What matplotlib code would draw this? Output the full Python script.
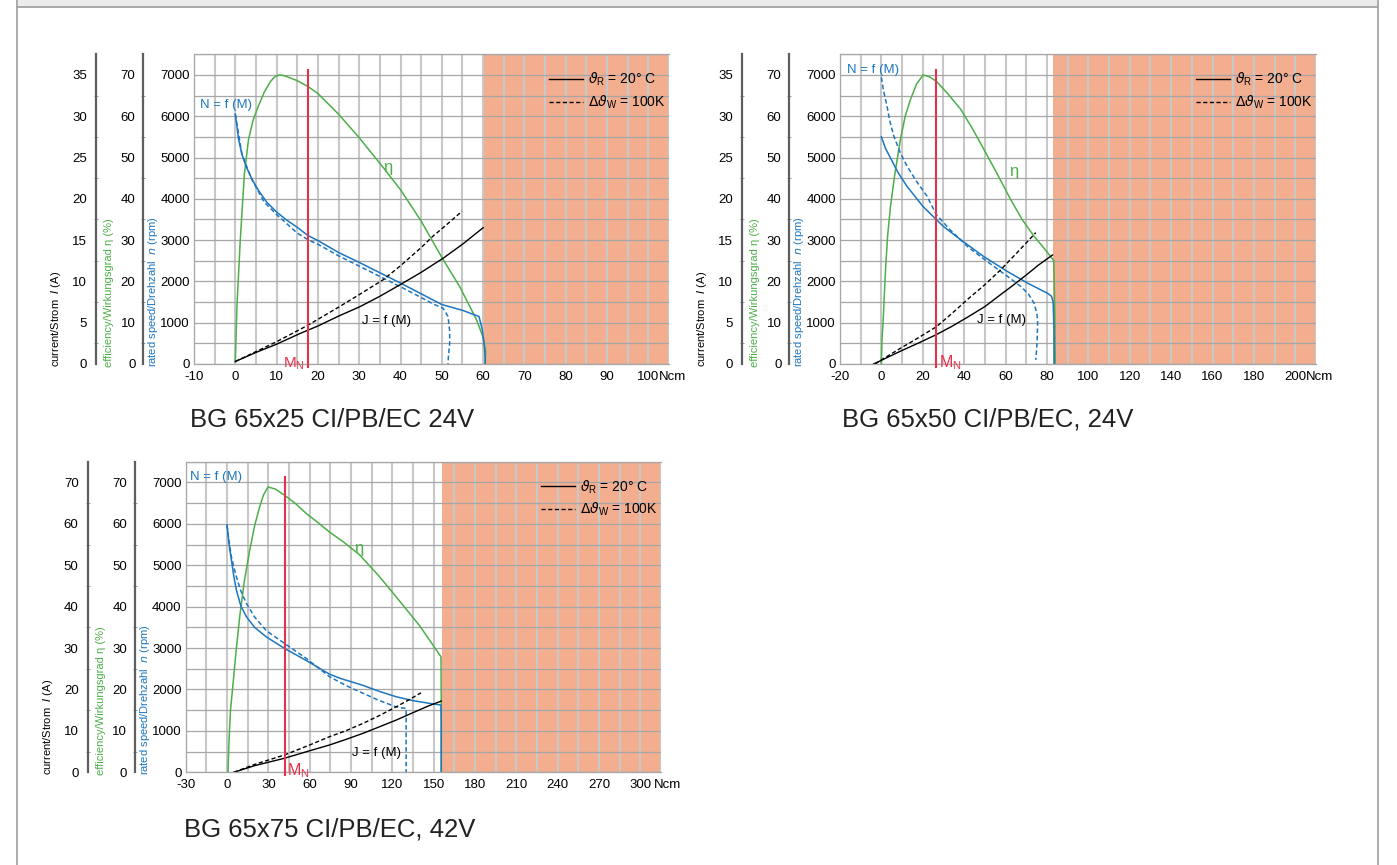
import numpy as np
import matplotlib
matplotlib.use("Agg")
import matplotlib.pyplot as plt
from matplotlib.lines import Line2D
from matplotlib.patches import Rectangle

plt.rcParams.update({"font.family": ["Liberation Sans", "DejaVu Sans"], "font.size": 9.5,
                     "mathtext.fontset": "dejavusans", "axes.unicode_minus": False})

W, H = 1397, 865
GREEN, BLUE, RED, ORANGE = "#4caf48", "#1c76c0", "#e8304a", "#f3ae90"

# ---- BG 65x25 CI/PB/EC 24V ----
n1_M = [0, 0.8, 1.6, 2.6, 4, 5.5, 7.6, 10, 12.5, 15, 17.6, 20, 25, 30, 35, 40, 45, 50, 55, 59, 59.8, 60.3, 60.5, 60.5]
n1_rpm = [6050, 5440, 5080, 4790, 4480, 4220, 3920, 3680, 3480, 3310, 3110, 2990, 2700, 2460, 2210, 1960, 1700, 1440, 1300, 1150, 830, 420, 150, 0]
n1d_M = [0, 1.6, 4, 7, 10, 15, 17.6, 20, 25, 30, 36.6, 40, 45, 48, 50.3, 51.5, 51.9, 51.9, 51.6, 51.5]
n1d_rpm = [6050, 5080, 4470, 3920, 3620, 3170, 3010, 2900, 2620, 2370, 2040, 1870, 1610, 1450, 1350, 1150, 800, 500, 200, 0]
eta1_M = [0, 0.4, 1.2, 2.2, 3.2, 4.3, 5.6, 7, 8.5, 9.5, 10.5, 11.5, 12.5, 15, 17.6, 20, 25, 30, 35.8, 40, 45, 50, 54.3, 58.4, 60, 60.6, 60.5]
eta1 = [0.5, 14, 30, 46, 54.4, 59, 62.5, 65.8, 68.4, 69.5, 70, 69.9, 69.6, 68.6, 67.2, 65.5, 60.5, 54.8, 47.6, 42.2, 34.6, 25.8, 18.8, 10.7, 6.5, 3, 0]
j1_M = [0, 5, 10, 15.7, 20, 25, 30, 35, 39.9, 45, 50.3, 55, 60]
j1_A = [0.3, 1.4, 2.4, 3.7, 4.6, 5.8, 6.9, 8.2, 9.6, 11.1, 12.8, 14.5, 16.5]
j1d_M = [0, 5, 10, 17.6, 25.4, 30, 35.8, 40, 45, 47.9, 51, 54.9]
j1d_A = [0.3, 1.5, 2.7, 4.7, 7.0, 8.4, 10.2, 11.9, 14.1, 15.5, 16.8, 18.5]

# ---- BG 65x50 CI/PB/EC, 24V ----
n2_M = [0, 2, 4.4, 8, 12.4, 20, 26.5, 30, 38.3, 49.5, 60.9, 70.6, 78, 80.2, 82.2, 83, 83.4, 83.5]
n2_rpm = [5500, 5220, 4990, 4640, 4300, 3820, 3500, 3330, 3010, 2600, 2240, 1960, 1770, 1716, 1640, 1500, 800, 0]
n2d_M = [0, 1, 2.7, 4, 6, 9, 12.4, 17, 22.1, 26.5, 33, 41.5, 48, 54.4, 61, 67.3, 71, 73.8, 75.2, 75.5, 75.2, 74.6]
n2d_rpm = [6940, 6620, 6250, 5900, 5520, 5130, 4790, 4420, 4060, 3620, 3260, 2850, 2600, 2360, 2120, 1880, 1700, 1470, 1200, 990, 500, 100]
eta2_M = [0, 0.3, 0.8, 1.9, 3, 4.4, 6.5, 9.2, 11.5, 14, 17, 20.2, 23, 26.5, 32, 38.3, 44, 49.5, 56, 62.5, 68, 73.8, 78, 81.8, 83.3, 83.8, 84]
eta2 = [0, 6, 10, 22, 31, 38.2, 46, 54.4, 60, 64, 67.8, 70, 69.6, 68.5, 65.5, 61.7, 57, 52, 46, 39.8, 35, 30.9, 28.4, 26, 25, 12, 0]
j2_M = [-3.8, 0, 9.2, 18, 26.5, 34, 41.5, 50, 57.6, 64, 70.6, 76, 82.7]
j2_A = [0, 0.45, 1.55, 2.55, 3.55, 4.55, 5.65, 6.95, 8.4, 9.6, 10.9, 12.0, 13.2]
j2d_M = [-3, 0, 9.2, 18, 26.5, 34, 41.5, 50, 57.6, 66, 74.6]
j2d_A = [0, 0.5, 1.9, 3.2, 4.5, 6.1, 7.8, 9.6, 11.4, 13.6, 15.9]

# ---- BG 65x75 CI/PB/EC, 42V ----
n3_M = [0, 1, 2, 3.2, 5, 6.8, 10, 14, 20, 28.5, 41.8, 57.5, 74.4, 82, 98.6, 110, 122.7, 135, 146.9, 155.3, 155.5, 155.5]
n3_rpm = [5970, 5650, 5380, 5120, 4720, 4400, 4020, 3760, 3500, 3270, 2990, 2700, 2370, 2270, 2100, 1960, 1825, 1730, 1665, 1624, 1200, 0]
n3d_M = [0, 1, 2, 3.2, 5, 6.8, 10, 14, 20, 28.5, 41.8, 57.5, 74.4, 86, 98.6, 110, 122.7, 128, 130, 130, 130]
n3d_rpm = [5970, 5700, 5450, 5200, 4950, 4720, 4380, 4080, 3750, 3420, 3110, 2750, 2310, 2100, 1910, 1740, 1580, 1550, 1545, 800, 0]
eta3_M = [0.7, 1.5, 2.5, 4.4, 6.5, 9.2, 12.5, 16.5, 20, 23.7, 26.5, 29.7, 35, 41.8, 50, 57.5, 66, 74.4, 85, 96.2, 110, 122.7, 140, 155.3, 155.5, 155.5]
eta3 = [0, 8, 15, 21.5, 29, 37.6, 46, 53.7, 59.5, 64.1, 67, 68.9, 68.4, 66.9, 64.8, 62.5, 60.3, 58, 55.5, 52.5, 47.5, 42.4, 35.3, 27.9, 16, 0]
j3_M = [4.9, 20, 41.8, 60, 74.4, 86, 98.6, 110, 122.7, 135, 146, 154, 155.5]
j3_A = [0, 1.6, 3.4, 5.2, 6.6, 7.9, 9.4, 10.9, 12.6, 14.4, 16.0, 17.0, 17.2]
j3d_M = [4.9, 20, 41.8, 60, 74.4, 86, 98.6, 110, 122.7, 132, 140.8]
j3d_A = [0, 1.9, 4.2, 6.6, 8.6, 10.0, 11.8, 13.6, 15.8, 17.5, 19.2]

titles = ["BG 65x25 CI/PB/EC 24V", "BG 65x50 CI/PB/EC, 24V", "BG 65x75 CI/PB/EC, 42V"]
x_limits = [(-10, 105), (-20, 210), (-30, 315)]
x_steps = [10, 20, 30]
limit_M = [60, 83, 156]          # start of the overload zone
rated_M = [17.6, 26.3, 41.8]     # M_N
current_max = [35, 35, 70]
current_step = [5, 5, 10]


def rect(l, r, t, b):
    return [l / W, 1 - b / H, (r - l) / W, (b - t) / H]


def chart(fig, box, i, n, nd, eta, j, jd, mn_side, ann, ncm_off):
    xl, st = x_limits[i], x_steps[i]
    ax = fig.add_axes(box)
    ax.set_xlim(*xl); ax.set_ylim(0, 7500)
    ax.set_axisbelow(True)
    ax.set_xticks(np.arange(xl[0], xl[1] - st / 2 + 1e-6, st))
    ax.set_xticks(np.arange(xl[0], xl[1] + 1e-6, st / 2), minor=True)
    ax.set_yticks(np.arange(0, 7001, 1000))
    ax.set_yticks(np.arange(0, 7501, 500), minor=True)
    ax.tick_params(which="both", length=0)
    ax.tick_params(axis="y", pad=3)
    ax.tick_params(axis="x", pad=5)
    ax.grid(axis="x", which="both", color="#c8c8c8", lw=1.5)
    ax.grid(axis="y", which="both", color="#a6a6a6", lw=0.9)
    for s in ["top", "left", "bottom"]:
        ax.spines[s].set_color("#a6a6a6"); ax.spines[s].set_linewidth(0.9)
    ax.spines["right"].set_visible(False)
    ax.axvspan(limit_M[i], xl[1], color=ORANGE, lw=0, zorder=0)
    ax.annotate("Ncm", (1, 0), xycoords="axes fraction", xytext=(ncm_off, -5),
                textcoords="offset points", ha="left", va="top", fontsize=9.5)

    scale_j = 7000.0 / current_max[i]
    ax.plot(eta[0], np.array(eta[1]) * 100.0, color=GREEN, lw=1.1, zorder=2)
    ax.plot(nd[0], nd[1], color=BLUE, lw=1.1, ls=(0, (3, 1.8)), zorder=2)
    ax.plot(n[0], n[1], color=BLUE, lw=1.1, zorder=2)
    ax.plot(jd[0], np.array(jd[1]) * scale_j, color="k", lw=1.0, ls=(0, (3, 1.8)), zorder=2)
    ax.plot(j[0], np.array(j[1]) * scale_j, color="k", lw=1.0, zorder=2)

    mn = rated_M[i]
    ax.axvline(mn, ymin=-0.01, ymax=0.95, color=RED, lw=1.5, zorder=3, clip_on=False)
    if mn_side == "left":
        ax.annotate("M$_{\\mathregular{N}}$", (mn, 0), xytext=(-2.5, 0.5), textcoords="offset points",
                    ha="right", va="center", color=RED, fontsize=11, annotation_clip=False)
    else:
        ax.annotate("M$_{\\mathregular{N}}$", (mn, 0), xytext=(2, 1), textcoords="offset points",
                    ha="left", va="center", color=RED, fontsize=11.5, annotation_clip=False)

    (nx, ny), (ex, ey), (jx, jy) = ann
    ax.text(nx, ny, "N = f (M)", color=BLUE, fontsize=9.5, ha="left", va="center")
    ax.text(ex, ey, "η", color=GREEN, fontsize=12, ha="center", va="center")
    ax.text(jx, jy, "J = f (M)", color="k", fontsize=9.5, ha="center", va="center")

    handles = [Line2D([], [], color="k", lw=1.0), Line2D([], [], color="k", lw=1.0, ls=(0, (3, 1.8)))]
    labels = ["$\\vartheta_{\\mathregular{R}}$ = 20° C", "$\\Delta\\vartheta_{\\mathregular{W}}$ = 100K"]
    ax.legend(handles, labels, loc="upper right", bbox_to_anchor=(1.005, 0.965), frameon=False,
              handlelength=2.4, handletextpad=0.4, labelspacing=0.4, borderaxespad=0, fontsize=10)

    # extra left axes: efficiency and current
    for off, top, step, pad in [(36.7, 70, 10, 5.5), (70.6, current_max[i], current_step[i], 6.5)]:
        a = fig.add_axes(box, facecolor="none")
        a.set_ylim(0, top * 7500 / 7000)
        a.set_xticks([])
        for s in ["top", "right", "bottom"]:
            a.spines[s].set_visible(False)
        a.spines["left"].set_position(("outward", off))
        a.spines["left"].set_color("#5e5e5e"); a.spines["left"].set_linewidth(1.6)
        a.set_yticks(np.arange(0, top + 1e-6, step))
        a.set_yticks(np.arange(step / 2, top * 7500 / 7000, step), minor=True)
        a.tick_params(axis="y", which="major", length=0, pad=pad)
        a.tick_params(axis="y", which="minor", length=3, direction="inout", color="#8a8a8a")

    w = box[2] * W
    y0 = -3 / (box[3] * H)
    ax.text(-138 / w, y0, "current/Strom  $\\mathit{I}$ (A)", transform=ax.transAxes, rotation=90,
            ha="center", va="bottom", fontsize=8, color="k")
    ax.text(-85 / w, y0, "efficiency/Wirkungsgrad η (%)", transform=ax.transAxes, rotation=90,
            ha="center", va="bottom", fontsize=8, color=GREEN)
    ax.text(-41 / w, y0, "rated speed/Drehzahl  $\\mathit{n}$ (rpm)", transform=ax.transAxes, rotation=90,
            ha="center", va="bottom", fontsize=8, color=BLUE)
    return ax


fig = plt.figure(figsize=(W / 100, H / 100), dpi=100)

# page frame
fig.add_artist(Rectangle((17 / W, 1 - 6.5 / H), (1378 - 17) / W, 6.5 / H, transform=fig.transFigure,
                         facecolor="#ececec", edgecolor="none"))
fig.add_artist(Line2D([17 / W, 1378 / W], [1 - 6.5 / H] * 2, color="#9c9c9c", lw=1.2))
fig.add_artist(Line2D([17 / W] * 2, [0, 1], color="#a6a6a6", lw=1.3))
fig.add_artist(Line2D([1378 / W] * 2, [0, 1], color="#a6a6a6", lw=1.3))

chart(fig, rect(194, 669, 54.3, 364), 0, (n1_M, n1_rpm), (n1d_M, n1d_rpm), (eta1_M, eta1),
      (j1_M, j1_A), (j1d_M, j1d_A), "left", [(-8.5, 6270), (37, 4750), (36.5, 1050)], -7)
chart(fig, rect(840, 1316, 54.3, 364), 1, (n2_M, n2_rpm), (n2d_M, n2d_rpm), (eta2_M, eta2),
      (j2_M, j2_A), (j2d_M, j2d_A), "right", [(-16.5, 7110), (64, 4670), (58, 1070)], -7)
chart(fig, rect(185.7, 661, 461.7, 772.3), 2, (n3_M, n3_rpm), (n3d_M, n3d_rpm), (eta3_M, eta3),
      (j3_M, j3_A), (j3d_M, j3d_A), "right", [(-27, 7135), (95.4, 5415), (108.5, 465)], -5)

for (x, y), t in zip([(190, 427), (842, 426), (184, 837)], titles):
    fig.text(x / W, 1 - y / H, t, fontsize=18.5, family="Liberation Sans", color="#222222",
             ha="left", va="baseline")

fig.savefig("out.png", dpi=100)
